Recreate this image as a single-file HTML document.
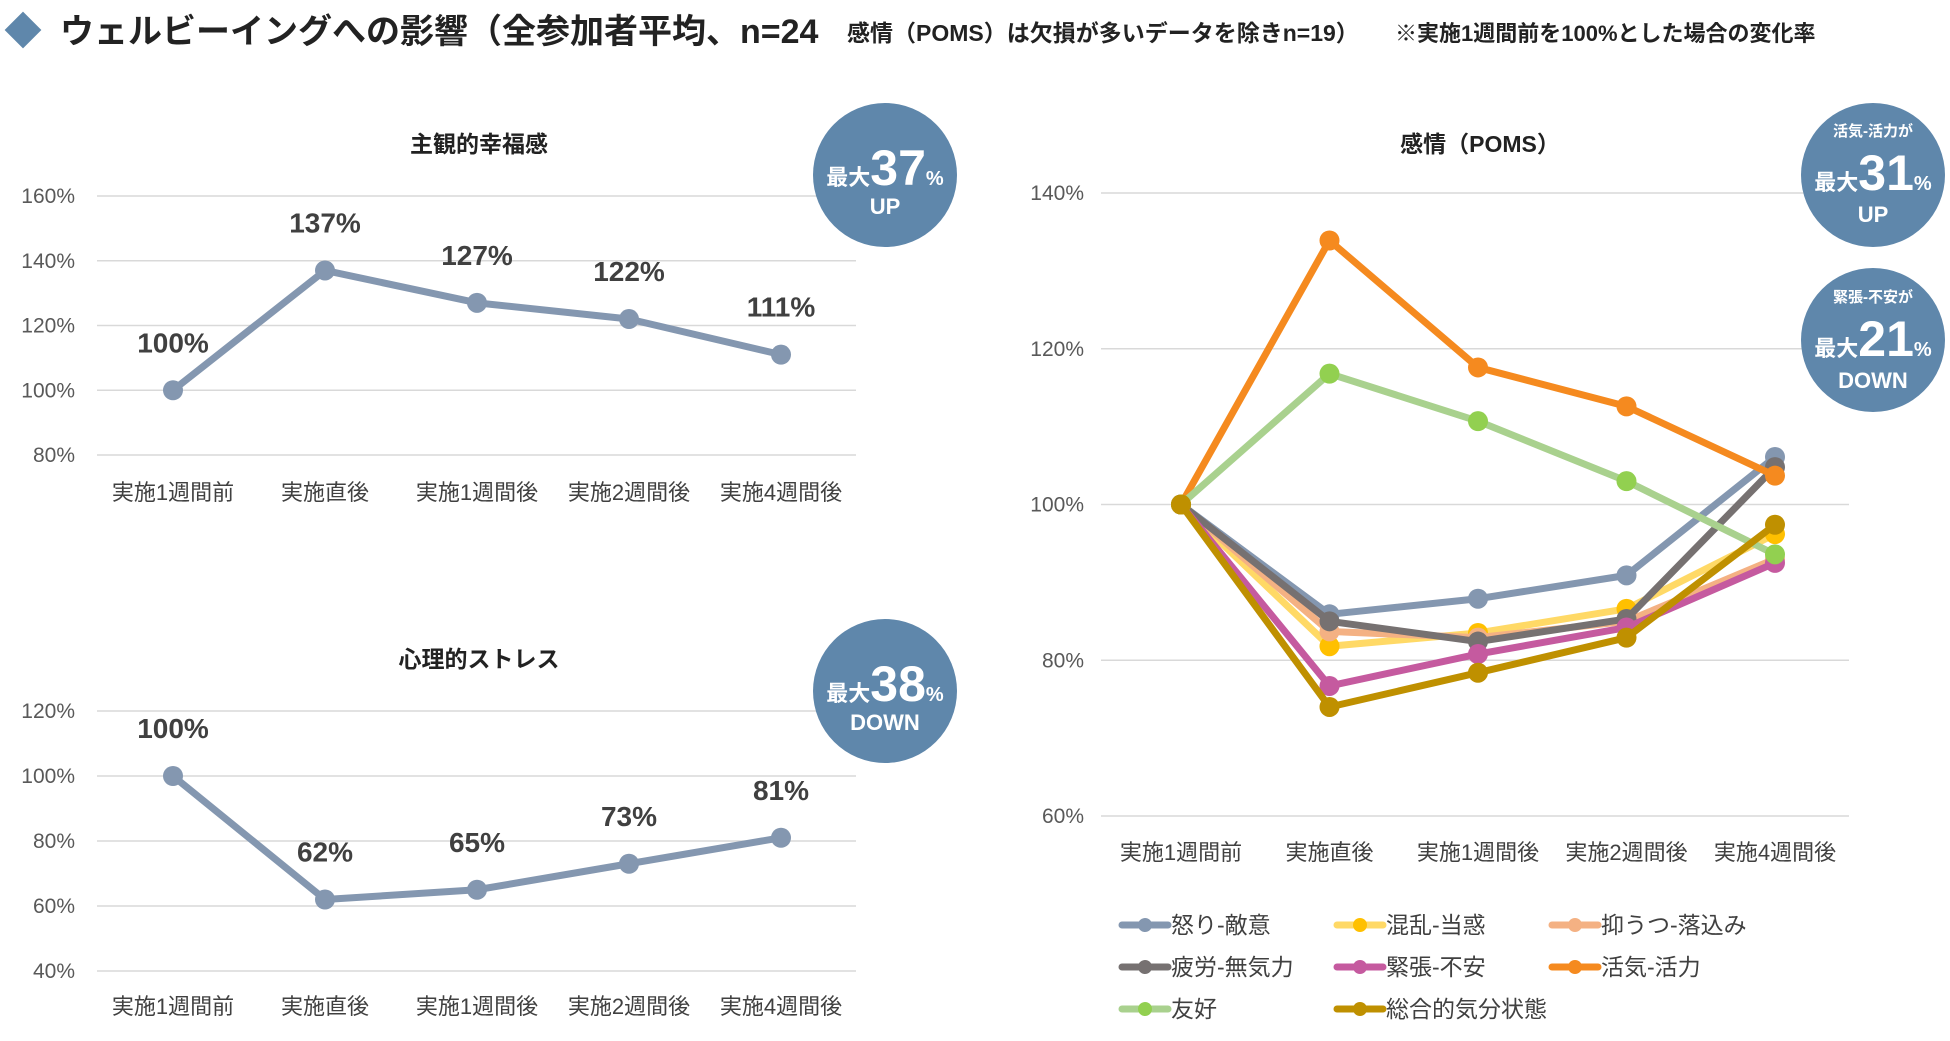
<!DOCTYPE html>
<html><head><meta charset="utf-8">
<style>
body{margin:0;background:#fff;}
svg{display:block;font-family:"Liberation Sans","Noto Sans CJK JP",sans-serif;}
</style></head>
<body>
<svg id="root" width="1950" height="1041" viewBox="0 0 1950 1041">
<g>
<rect x="10" y="17" width="26" height="26" fill="#5f87ab" transform="rotate(45 23 30)"/>
<text x="60" y="43" font-size="34" font-weight="bold" fill="#222">ウェルビーイングへの影響（全参加者平均、n=24</text>
<text x="847" y="41" font-size="23" font-weight="bold" fill="#222">感情（POMS）は欠損が多いデータを除きn=19）</text>
<text x="1395" y="41" font-size="22" font-weight="bold" fill="#222">※実施1週間前を100%とした場合の変化率</text>
</g>
<g id="c1"></g>
<g id="c2"></g>
<g id="c3"></g>
<g>
<g>
<circle cx="885" cy="175" r="72" fill="#5f87ab"/>
<text x="885" y="185" text-anchor="middle" fill="#fff" font-weight="bold"><tspan font-size="22">最大</tspan><tspan font-size="50">37</tspan><tspan font-size="20">%</tspan></text>
<text x="885" y="214" text-anchor="middle" fill="#fff" font-weight="bold" font-size="22">UP</text>
</g>
<g>
<circle cx="885" cy="691" r="72" fill="#5f87ab"/>
<text x="885" y="701" text-anchor="middle" fill="#fff" font-weight="bold"><tspan font-size="22">最大</tspan><tspan font-size="50">38</tspan><tspan font-size="20">%</tspan></text>
<text x="885" y="730" text-anchor="middle" fill="#fff" font-weight="bold" font-size="22">DOWN</text>
</g>
<g>
<circle cx="1873" cy="175" r="72" fill="#5f87ab"/>
<text x="1873" y="136" text-anchor="middle" fill="#fff" font-weight="bold" font-size="15">活気-活力が</text>
<text x="1873" y="190" text-anchor="middle" fill="#fff" font-weight="bold"><tspan font-size="22">最大</tspan><tspan font-size="50">31</tspan><tspan font-size="20">%</tspan></text>
<text x="1873" y="222" text-anchor="middle" fill="#fff" font-weight="bold" font-size="22">UP</text>
</g>
<g>
<circle cx="1873" cy="340" r="72" fill="#5f87ab"/>
<text x="1873" y="302" text-anchor="middle" fill="#fff" font-weight="bold" font-size="15">緊張-不安が</text>
<text x="1873" y="356" text-anchor="middle" fill="#fff" font-weight="bold"><tspan font-size="22">最大</tspan><tspan font-size="50">21</tspan><tspan font-size="20">%</tspan></text>
<text x="1873" y="388" text-anchor="middle" fill="#fff" font-weight="bold" font-size="22">DOWN</text>
</g>
</g>
<g id="legend"></g>
</svg>
<script>
const categories=["実施1週間前","実施直後","実施1週間後","実施2週間後","実施4週間後"];
const happinessValues=[100,137,127,122,111];
const happinessTicks=[80,100,120,140,160];
const stressValues=[100,62,65,73,81];
const stressTicks=[40,60,80,100,120];
const pomsTicks=[60,80,100,120,140];
const pomsNames=["怒り-敵意","混乱-当惑","抑うつ-落込み","疲労-無気力","緊張-不安","活気-活力","友好","総合的気分状態"];
const angerValues=[100,85.9,87.9,90.9,106.1];
const confusionValues=[100,81.8,83.5,86.6,96.2];
const depressionValues=[100,83.7,82.9,85.0,93.0];
const fatigueValues=[100,85.0,82.4,85.3,104.8];
const tensionValues=[100,76.7,80.8,84.2,92.5];
const vigorValues=[100,133.9,117.6,112.6,103.7];
const friendlyValues=[100,116.8,110.7,103.0,93.6];
const totalValues=[100,74.0,78.4,82.9,97.4];

const NS="http://www.w3.org/2000/svg";
function mk(parent,tag,attrs,text){const e=document.createElementNS(NS,tag);for(const k in attrs)e.setAttribute(k,attrs[k]);if(text!==undefined)e.textContent=text;parent.appendChild(e);return e;}

function drawChart(g,o){
  const yS=v=>o.yBot-(v-o.ticks[0])/(o.ticks[o.ticks.length-1]-o.ticks[0])*(o.yBot-o.yTop);
  const xS=i=>o.x0+i*o.dx;
  const t=mk(g,'text',{x:o.titleX,y:o.titleY,'text-anchor':'middle','font-size':23,'font-weight':'bold',fill:'#222'},o.title);
  
  
  o.ticks.forEach(v=>{
    const l=mk(g,'line',{x1:o.gx1,x2:o.gx2,y1:yS(v),y2:yS(v),stroke:'#d9d9d9','stroke-width':1.5});
    
    
    const tl=mk(g,'text',{x:o.yLabX,y:yS(v)+7,'text-anchor':'end','font-size':21,fill:'#595959'},v+'%');
    
    
  });
  categories.forEach((c,i)=>{
    const tl=mk(g,'text',{x:xS(i),y:o.catY,'text-anchor':'middle','font-size':22,fill:'#404040'},c);
    
    
  });
  o.series.forEach(s=>{
    const pts=s.values.map((v,i)=>xS(i)+','+yS(v)).join(' ');
    const pl=mk(g,'polyline',{points:pts,fill:'none',stroke:s.color,'stroke-width':7,'stroke-linejoin':'round'});
    
    
    s.values.forEach((v,i)=>{
      const c=mk(g,'circle',{cx:xS(i),cy:yS(v),r:10,fill:s.marker||s.color});
      
      
      if(o.labels){
        const lt=mk(g,'text',{x:xS(i),y:yS(v)-38,'text-anchor':'middle','font-size':28,'font-weight':'bold',fill:'#404040'},Math.round(v)+'%');
        
        
      }
    });
  });
}
drawChart(document.getElementById('c1'),{title:'主観的幸福感',titleX:479,titleY:152,ticks:happinessTicks,yTop:196,yBot:455,gx1:97,gx2:856,yLabX:75,x0:173,dx:152,catY:500,labels:true,series:[{values:happinessValues,color:'#8497b0'}]});
drawChart(document.getElementById('c2'),{title:'心理的ストレス',titleX:479,titleY:667,ticks:stressTicks,yTop:711,yBot:971,gx1:97,gx2:856,yLabX:75,x0:173,dx:152,catY:1014,labels:true,series:[{values:stressValues,color:'#8497b0'}]});
const pomsSeries=[
 {values:angerValues,color:'#8497b0'},
 {values:confusionValues,color:'#ffd966',marker:'#ffc000'},
 {values:depressionValues,color:'#f4b183'},
 {values:fatigueValues,color:'#767171'},
 {values:tensionValues,color:'#c55a9f'},
 {values:vigorValues,color:'#f58a1f'},
 {values:friendlyValues,color:'#a9d18e',marker:'#92d050'},
 {values:totalValues,color:'#bf9000'}];
drawChart(document.getElementById('c3'),{title:'感情（POMS）',titleX:1480,titleY:152,ticks:pomsTicks,yTop:193,yBot:816,gx1:1101,gx2:1849,yLabX:1084,x0:1181,dx:148.5,catY:860,labels:false,series:pomsSeries});
const lg=document.getElementById('legend');
pomsNames.forEach((n,i)=>{
  const col=i%3,row=Math.floor(i/3);
  const x=1122+col*215,y=925+row*42;
  const s=pomsSeries[i];
  const g=mk(lg,'g',{});
  
  
  mk(g,'line',{x1:x,x2:x+46,y1:y,y2:y,stroke:s.color,'stroke-width':7,'stroke-linecap':'round'});
  mk(g,'circle',{cx:x+23,cy:y,r:7,fill:s.marker||s.color});
  mk(g,'text',{x:x+49,y:y+8,'font-size':23,fill:'#404040'},n);
});
</script>
</body></html>
